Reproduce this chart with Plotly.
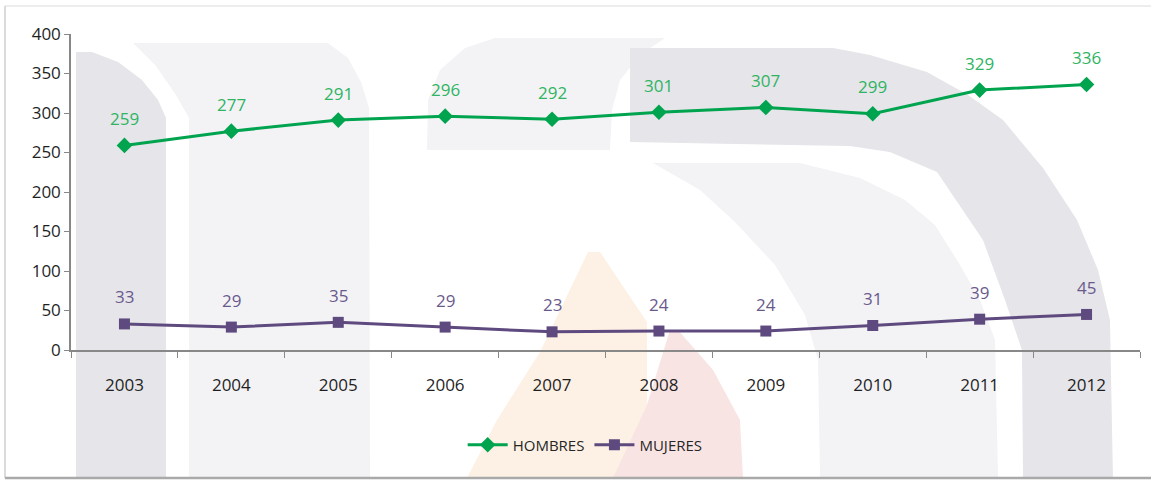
import plotly.graph_objects as go

years = ["2003", "2004", "2005", "2006", "2007", "2008", "2009", "2010", "2011", "2012"]
hombres = [259, 277, 291, 296, 292, 301, 307, 299, 329, 336]
mujeres = [33, 29, 35, 29, 23, 24, 24, 31, 39, 45]
y_ticks = [0, 50, 100, 150, 200, 250, 300, 350, 400]

W, H = 1151, 480
L, R, T, B = 71, 11, 34, 130
PW, PH = W - L - R, H - T - B

GREEN = "#00a44f"
GREEN_TXT = "#2fb462"
PURPLE = "#5e4a7e"
PURPLE_TXT = "#6a5a8c"
FONT = "Open Sans, Noto Sans, sans-serif"


def px(x, y):
    return (x - L) / PW, (H - B - y) / PH


def path(points):
    s = ""
    for i, (x, y) in enumerate(points):
        a, b = px(x, y)
        s += ("M" if i == 0 else "L") + f"{a:.4f},{b:.4f} "
    return s + "Z"


DARK = "#e5e5ea"
LIGHT = "#f3f3f6"
wm = [
    ([(76, 52), (92, 52), (118, 62), (142, 80), (158, 100), (166, 118), (166, 478), (76, 478)], DARK),
    ([(133, 43), (328, 43), (348, 58), (361, 82), (369, 108), (370, 478), (189, 478), (189, 118),
      (176, 95), (156, 66)], LIGHT),
    ([(427, 150), (428, 100), (440, 70), (465, 48), (495, 38), (665, 38), (640, 55), (620, 80),
      (612, 110), (610, 150)], LIGHT),
    ([(630, 48), (833, 48), (870, 55), (927, 72), (968, 95), (1003, 120), (1043, 168), (1077, 220),
      (1098, 270), (1110, 320), (1113, 478), (1023, 478), (1022, 350), (1005, 300), (983, 240),
      (937, 172), (890, 152), (850, 146), (630, 142)], DARK),
    ([(653, 163), (800, 163), (860, 178), (905, 200), (935, 225), (960, 265), (980, 300), (995, 340),
      (998, 478), (820, 478), (818, 360), (805, 315), (775, 265), (735, 222), (700, 190)], LIGHT),
    ([(588, 252), (600, 252), (647, 322), (647, 478), (467, 478), (497, 420), (540, 352)], "#fdf1e5"),
    ([(670, 330), (678, 330), (713, 370), (740, 420), (743, 478), (613, 478), (647, 405)], "#f9e4e4"),
]

shapes = []
for pts, col in wm:
    shapes.append(dict(type="path", path=path(pts), xref="paper", yref="paper",
                       fillcolor=col, line=dict(width=0), layer="below"))

# frame
for (x0, y0, x1, y1, col, w) in [(5, 6, 1151, 6, "#ededed", 2), (5, 6, 5, 478, "#cfcfcf", 1.5),
                                  (5, 478, 1151, 478, "#a9a9a9", 2.5)]:
    a0, b0 = px(x0, y0)
    a1, b1 = px(x1, y1)
    shapes.append(dict(type="line", xref="paper", yref="paper", x0=a0, y0=b0, x1=a1, y1=b1,
                       line=dict(color=col, width=w), layer="below"))

fig = go.Figure()
fig.add_trace(go.Scatter(x=years, y=hombres, name="HOMBRES", mode="lines+markers",
                         line=dict(color=GREEN, width=3),
                         marker=dict(symbol="diamond", size=12, color=GREEN)))
fig.add_trace(go.Scatter(x=years, y=mujeres, name="MUJERES", mode="lines+markers",
                         line=dict(color=PURPLE, width=3),
                         marker=dict(symbol="square", size=11, color=PURPLE)))

annotations = []
for ys, col in [(hombres, GREEN_TXT), (mujeres, PURPLE_TXT)]:
    for i, y in enumerate(ys):
        annotations.append(dict(x=i, y=y, xref="x", yref="y", text=str(y), showarrow=False,
                                yshift=27, font=dict(family=FONT, size=17, color=col)))

fig.update_layout(
    width=W, height=H,
    margin=dict(l=L, r=R, t=T, b=B),
    paper_bgcolor="white", plot_bgcolor="rgba(0,0,0,0)",
    shapes=shapes, annotations=annotations,
    showlegend=True,
    legend=dict(orientation="h", x=0.481, xanchor="center", y=px(0, 445)[1], yanchor="middle",
                font=dict(family=FONT, size=15, color="#262626"), itemwidth=40,
                bgcolor="rgba(0,0,0,0)", tracegroupgap=0),
    font=dict(family=FONT, size=17, color="#262626"),
)
fig.update_xaxes(type="category", range=[-0.5, 9.5], showgrid=False, showline=True,
                 linecolor="#888888", linewidth=1.5, ticks="outside", tickson="boundaries",
                 ticklen=6, tickcolor="#888888", ticklabelstandoff=19,
                 tickfont=dict(family=FONT, size=17, color="#1f1f1f"), zeroline=False)
fig.update_yaxes(range=[0, 400], tickvals=y_ticks, showgrid=False, showline=True,
                 linecolor="#888888", linewidth=1.5, ticks="outside", ticklen=5,
                 tickcolor="#888888", zeroline=False,
                 tickfont=dict(family=FONT, size=17, color="#1f1f1f"))

fig.write_html("out.html", config={"displayModeBar": False})

with open("out.html", encoding="utf-8") as f:
    html = f.read()
html = html.replace("<head>", "<head><style>html,body{margin:0;padding:0;overflow:hidden}</style>", 1)
with open("out.html", "w", encoding="utf-8") as f:
    f.write(html)
